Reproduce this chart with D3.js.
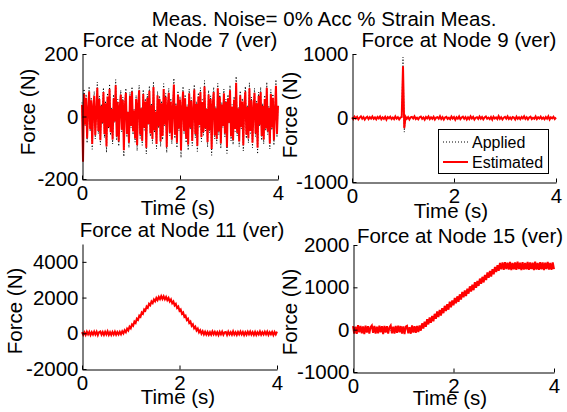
<!DOCTYPE html>
<html>
<head>
<meta charset="utf-8">
<script src="https://cdn.jsdelivr.net/npm/d3@7"></script>
<style>
  body { margin: 0; background: #fff; }
  svg { display: block; }
</style>
</head>
<body>
<svg id="chart" width="567" height="412"></svg>
<script>
const figTitle = 'Meas. Noise= 0% Acc % Strain Meas.';
const timeRange = [0, 4];
const timeTicks = [0, 2, 4];
const xLabel = 'Time (s)';
const yLabel = 'Force (N)';
const legendLabels = ['Applied', 'Estimated'];

// Node 7: broadband random force
const node7Ticks = [-200, 0, 200];
const node7Applied = [
  45,-100,88,-30,71,-85,20,96,-48,60,-105,35,80,-72,15,110,-55,66,-90,40,
  -25,92,-68,50,-115,75,-40,104,-60,28,-88,70,-20,118,-76,55,-95,33,84,-50,
  62,-128,40,90,-66,18,-100,78,-35,95,-58,24,-82,68,-110,45,100,-70,30,-92,
  86,-44,57,-120,72,-28,98,-64,42,-86,112,-52,20,-104,80,-38,66,-96,50,-74,
  105,-30,74,-116,36,90,-62,58,-88,26,122,-70,44,-100,82,-46,64,-132,30,96,
  -56,70,-84,38,-108,88,-42,60,-94,22,102,-68,48,-112,76,-34,92,-80,54,-60,
  115,-46,28,-98,84,-52,66,-124,40,94,-72,32,-86,106,-58,74,-102,46,-36,88,
  -66,56,-118,70,-24,100,-78,38,-90,64,-48,128,-62,30,-96,82,-40,58,-110,44,
  96,-70,36,-84,108,-54,62,-100,26,90,-64,50,-120,78,-32,94,-76,42,-88,68,
  -46,110,-58,34,-104,86,-44,72,-92,20,118,-66,40
];
const node7Estimated = [
  38,-145,72,-26,60,-70,18,80,-40,52,-88,30,66,-60,12,92,-46,56,-76,34,
  -20,78,-56,42,-96,64,-34,88,-50,24,-74,58,-16,100,-64,46,-80,28,70,-42,
  52,-108,34,76,-56,14,-84,66,-30,80,-48,20,-70,56,-92,38,84,-58,26,-78,
  72,-36,48,-100,60,-24,82,-54,36,-72,94,-44,16,-88,68,-32,56,-80,42,-62,
  88,-26,62,-98,30,76,-52,48,-74,22,102,-58,36,-84,70,-38,54,-108,26,80,
  -46,58,-70,32,-90,74,-36,50,-78,18,86,-56,40,-94,64,-28,78,-66,46,-50,
  96,-38,24,-82,70,-44,56,-104,34,78,-60,26,-72,90,-48,62,-86,38,-30,74,
  -54,46,-98,58,-20,84,-64,32,-76,54,-40,108,-52,26,-80,68,-34,48,-92,36,
  80,-58,30,-70,90,-46,52,-84,22,76,-54,42,-100,66,-26,78,-62,34,-74,56,
  -38,92,-48,28,-86,72,-36,60,-76,16,98,-56,34
];

// Node 9: impulse at t = 1 s
const node9Ticks = [-1000, 0, 1000];
const node9Applied = [
  5,-8,12,-4,9,-11,3,14,-6,7,-13,2,10,-9,6,-5,11,-7,4,-12,
  8,-3,13,-10,5,-6,9,-14,7,-2,11,-8,4,-9,12,-5,6,-11,3,8,
  950,-220,10,-6,7,-12,5,9,-4,13,-8,2,-10,6,11,-7,4,-13,8,-3,
  12,-9,5,-6,10,-11,3,7,-5,14,-8,6,-12,4,9,-7,2,-10,11,-4,
  8,-13,6,-5,12,-9,3,10,-6,7,-11,5,-8,13,-4,9,-12,2,6,-7,
  11,-5,8,-10,4,12,-6,3,-9,7,-13,10,-4,5,-8,14,-7,6,-11,2,
  9,-5,12,-8,4,-10,7,3,-12,11,-6,5,-9,8,-3,13,-7,6,-11,4,
  10,-8,2,-6,12,-9,5,-4,11,-7,3,-10,8,-5,13,-12,6,-3,9,-8,4
];
const node9Estimated = [
  10,-16,22,-8,18,-20,6,26,-12,14,-24,4,20,-18,12,-10,22,-14,8,-22,
  16,-6,24,-20,10,-12,18,-26,14,-4,20,-16,8,-18,24,-10,12,-22,6,16,
  810,-160,20,-12,14,-24,10,18,-8,26,-16,4,-20,12,22,-14,8,-26,16,-6,
  24,-18,10,-12,20,-22,6,14,-10,28,-16,12,-24,8,18,-14,4,-20,22,-8,
  16,-26,12,-10,24,-18,6,20,-12,14,-22,10,-16,26,-8,18,-24,4,12,-14,
  22,-10,16,-20,8,24,-12,6,-18,14,-26,20,-8,10,-16,28,-14,12,-22,4,
  18,-10,24,-16,8,-20,14,6,-24,22,-12,10,-18,16,-6,26,-14,12,-22,8,
  20,-16,4,-12,24,-18,10,-8,22,-14,6,-20,16,-10,26,-24,12,-6,18,-16,8
];

// Node 11: bell shaped pulse
const node11Ticks = [-2000, 0, 2000, 4000];
const node11Applied = [
  20,-35,40,-25,30,-45,15,35,-30,45,-20,25,-40,30,-15,
  10,30,50,150,220,370,490,670,815,1010,1165,1350,1490,1655,1755,
  1880,1930,1995,1990,1995,1930,1875,1755,1650,1490,1350,1165,1010,815,665,
  490,365,225,140,50,25,-20,
  30,-40,25,-30,45,-20,35,-45,20,40,-25,30,-35,15,45,-30,25,-40,35,-20,
  40,-35,30,-25,45,-15,35,-40,20
];
const node11Estimated = [
  70,-85,55,-95,90,-60,80,-100,65,-75,95,-70,85,-105,60,100,-80,70,-90,85,
  -65,105,-85,60,-95,75,-70,90,-80,65,
  -70,80,-55,110,-10,170,60,260,160,370,280,500,425,655,580,820,750,990,925,1165,
  1095,1335,1265,1500,1425,1650,1570,1780,1690,1895,1790,1980,1860,2040,1910,2080,
  1920,2075,1905,2040,1860,1980,1785,1895,1685,1785,1565,1650,1420,1500,1260,1335,
  1095,1165,920,990,745,820,580,655,420,505,280,370,155,260,55,170,-20,115,-60,85,-75,
  70,-90,60,-80,100,-55,85,-70,65,-100,80,-60,95,-85,55,75,-95,90,-65,60,
  -80,105,-70,55,-90,80,-60,95,-65,75,-100,60,-80,90,-55,95,-70,65,-90,80,
  -95,55,-65,100,-80,60,-70,90,-60,95,-85,65,-55,80,-100,70,-65,90
];

// Node 15: ramp then hold
const node15Ticks = [-1000, 0, 1000, 2000];
const node15Applied = [
  25,-30,35,-20,30,-35,20,40,-25,30,-40,15,35,-30,25,-20,40,-35,30,-25,
  20,35,-40,30,-15,25,-30,
  45,60,115,150,210,240,300,330,395,420,485,515,575,600,670,690,760,780,855,875,
  945,965,1040,1055,1130,1150,1225,1240,1315,1335,1405,1425,1495,
  1520,1480,1530,1490,1515,1475,1525,1485,1520,1470,1530,1495,1515,1480,1525,1490,
  1520,1475,1530,1485,1510
];
const node15Estimated = [
  85,-90,70,-100,105,-60,90,-85,75,-105,95,-70,85,-90,60,100,-75,90,-95,70,
  -85,95,-60,80,-105,90,-70,85,-90,55,100,-85,70,-95,90,-75,95,-60,85,-90,
  75,-105,70,90,-85,60,-95,100,-70,85,-75,90,-55,
  98,-24,149,27,190,68,246,124,287,160,323,196,374,257,430,298,466,334,507,390,
  563,441,604,472,660,528,691,574,747,625,788,656,834,712,890,763,926,794,967,850,
  1023,901,1064,932,1120,988,1151,1034,1207,1085,1248,1116,1294,1172,1350,1223,
  1386,1254,1427,1310,1483,1361,1524,1392,1575,1425,
  1590,1415,1595,1430,1580,1420,1600,1410,1575,1425,1590,1415,1605,1430,1580,1410,
  1595,1420,1575,1425,1600,1415,1590,1430,1580,1410,1605,1420,1575,1415,1595,1425,
  1590,1410,1580,1430,1600,1420,1575,1415,1590,1430
];

const panels = [
  { title: 'Force at Node 7 (ver)', yDomain: [-200, 200], yTicks: node7Ticks,
    applied: node7Applied, estimated: node7Estimated,
    left: 82, right: 278, top: 54, bottom: 179,
    titleX: 180, titleY: 47, yLabelX: 35, yLabelY: 112, xLabelX: 178, xLabelY: 215 },
  { title: 'Force at Node 9 (ver)', yDomain: [-1000, 1000], yTicks: node9Ticks,
    applied: node9Applied, estimated: node9Estimated,
    left: 352, right: 556, top: 54, bottom: 182,
    titleX: 459, titleY: 47, yLabelX: 297, yLabelY: 115, xLabelX: 451, xLabelY: 218, legend: true },
  { title: 'Force at Node 11 (ver)', yDomain: [-2000, 5000], yTicks: node11Ticks,
    applied: node11Applied, estimated: node11Estimated,
    left: 82, right: 277, top: 244, bottom: 369,
    titleX: 182, titleY: 237, yLabelX: 22, yLabelY: 311, xLabelX: 178, xLabelY: 404 },
  { title: 'Force at Node 15 (ver)', yDomain: [-1000, 2000], yTicks: node15Ticks,
    applied: node15Applied, estimated: node15Estimated,
    left: 353, right: 554, top: 245, bottom: 372,
    titleX: 460, titleY: 243, yLabelX: 297, yLabelY: 312, xLabelX: 450, xLabelY: 405 }
];

const fontFamily = '"Liberation Sans", Arial, Helvetica, sans-serif';
const fontSize = 20.5;
const plainNumber = d => String(d);   // MATLAB style: no separators, ascii minus
const svg = d3.select('#chart').attr('font-family', fontFamily);

svg.append('text')
  .attr('x', 324).attr('y', 26)
  .attr('text-anchor', 'middle')
  .attr('font-size', fontSize)
  .text(figTitle);

panels.forEach(p => {
  const g = svg.append('g');
  const x = d3.scaleLinear().domain(timeRange).range([p.left, p.right]);
  const y = d3.scaleLinear().domain(p.yDomain).range([p.bottom, p.top]);

  // each series is sampled evenly over the time range
  function seriesPath(values) {
    const t = d3.scaleLinear().domain([0, values.length - 1]).range(timeRange);
    return d3.line().x((d, i) => x(t(i))).y(d => y(d))(values);
  }

  g.append('path')
    .attr('d', seriesPath(p.applied))
    .attr('fill', 'none')
    .attr('stroke', '#000')
    .attr('stroke-width', 1)
    .attr('stroke-dasharray', '1,2');

  g.append('path')
    .attr('d', seriesPath(p.estimated))
    .attr('fill', 'none')
    .attr('stroke', '#ff0000')
    .attr('stroke-width', 2);

  const xAxis = g.append('g')
    .attr('transform', `translate(0,${p.bottom + 0.5})`)
    .call(d3.axisBottom(x).tickValues(timeTicks).tickFormat(plainNumber)
      .tickSizeInner(-4).tickSizeOuter(0).tickPadding(6));
  const yAxis = g.append('g')
    .attr('transform', `translate(${p.left + 0.5},0)`)
    .call(d3.axisLeft(y).tickValues(p.yTicks).tickFormat(plainNumber)
      .tickSizeInner(-4).tickSizeOuter(0).tickPadding(4));
  [xAxis, yAxis].forEach(a => a.attr('font-size', fontSize).attr('font-family', fontFamily));

  g.append('text')
    .attr('x', p.titleX).attr('y', p.titleY)
    .attr('text-anchor', 'middle')
    .attr('font-size', fontSize)
    .text(p.title);

  g.append('text')
    .attr('x', p.xLabelX).attr('y', p.xLabelY)
    .attr('text-anchor', 'middle')
    .attr('font-size', fontSize)
    .text(xLabel);

  g.append('text')
    .attr('transform', `translate(${p.yLabelX},${p.yLabelY}) rotate(-90)`)
    .attr('text-anchor', 'middle')
    .attr('font-size', fontSize)
    .text(yLabel);

  if (p.legend) {
    const lg = g.append('g').attr('transform', 'translate(438,129)');
    lg.append('rect')
      .attr('x', 0.5).attr('y', 0.5)
      .attr('width', 110).attr('height', 44)
      .attr('fill', '#fff').attr('stroke', '#000').attr('stroke-width', 1);
    const styles = [
      { stroke: '#000', width: 1, dash: '1,2' },
      { stroke: '#ff0000', width: 2, dash: null }
    ];
    legendLabels.forEach((label, i) => {
      const ly = 13 + i * 20;
      lg.append('line')
        .attr('x1', 5).attr('x2', 30)
        .attr('y1', ly).attr('y2', ly)
        .attr('stroke', styles[i].stroke)
        .attr('stroke-width', styles[i].width)
        .attr('stroke-dasharray', styles[i].dash);
      lg.append('text')
        .attr('x', 34).attr('y', ly + 6)
        .attr('font-size', 16)
        .text(label);
    });
  }
});
</script>
</body>
</html>
